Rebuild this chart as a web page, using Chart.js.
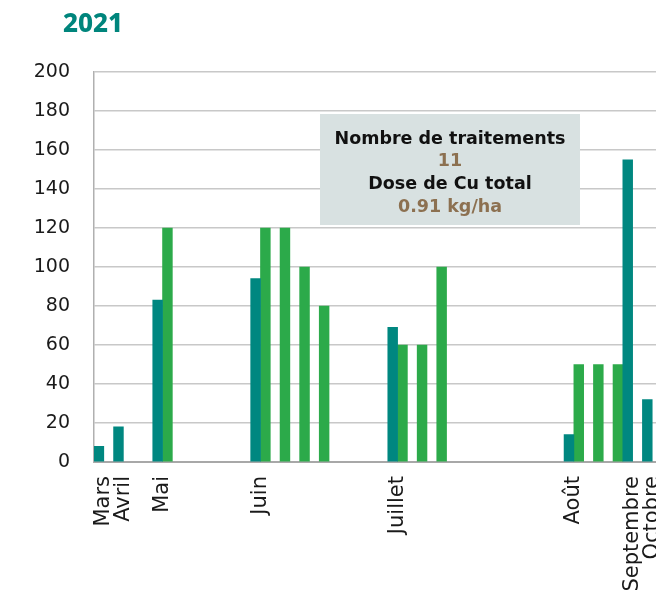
<!DOCTYPE html>
<html>
<head>
<meta charset="utf-8">
<script src="https://cdn.jsdelivr.net/npm/chart.js@4/dist/chart.umd.min.js"></script>
<style>
  html, body { margin: 0; padding: 0; background: #fff; overflow: hidden; }
  #wrap { position: relative; width: 711px; height: 640px; }
</style>
</head>
<body>
<div id="wrap"><canvas id="c"></canvas></div>
<script>
// Category slots (labels only at month starts)
const categories = [
  'Mars', 'Avril', '', 'Mai', '', '', '', '', 'Juin', '', '', '', '', '', '',
  'Juillet', '', '', '', '', '', '', '', '', 'Août', '', '', 'Septembre', 'Octobre', ''
];
// Series 1 (teal)
const tealValues = [
  8, 18, null, 83, null, null, null, null, 94, null, null, null, null, null, null,
  69, null, null, null, null, null, null, null, null, 14, null, null, 155, 32, null
];
// Series 2 (green)
const greenValues = [
  null, null, null, 120, null, null, null, null, 120, 120, 100, 80, null, null, null,
  60, 60, 100, null, null, null, null, null, null, 50, 50, 50, null, null, null
];
const yTicks = [0, 20, 40, 60, 80, 100, 120, 140, 160, 180, 200];
const titleText = '2021';
const boxLines = ['Nombre de traitements', '11', 'Dose de Cu total', '0.91 kg/ha'];

const TEAL = '#008780';
const TITLE_TEAL = '#00857c';
const GREEN = '#2caa4a';
const BROWN = '#8c7050';
const CANVAS_H = 640;
const AXIS_BOTTOM = 462;

const overlay = {
  id: 'overlay',
  afterDraw(chart) {
    const ctx = chart.ctx;
    ctx.save();
    // title
    ctx.fillStyle = TITLE_TEAL;
    ctx.font = '800 26px "Noto Sans"';
    ctx.textBaseline = 'alphabetic';
    ctx.textAlign = 'left';
    ctx.fillText(titleText, 63, 32);
    // info box
    ctx.fillStyle = '#d8e1e1';
    ctx.fillRect(320, 114, 260, 111);
    ctx.textAlign = 'center';
    ctx.textBaseline = 'middle';
    const cx = 450;
    const ys = [139, 161.5, 184, 207];
    boxLines.forEach((t, i) => {
      ctx.fillStyle = (i % 2 === 1) ? BROWN : '#111111';
      ctx.font = 'bold 17.5px "DejaVu Sans"';
      ctx.fillText(t, cx, ys[i]);
    });
    ctx.restore();
  }
};

new Chart(document.getElementById('c'), {
  type: 'bar',
  data: {
    labels: categories,
    datasets: [
      { data: tealValues, backgroundColor: TEAL, borderWidth: 0 },
      { data: greenValues, backgroundColor: GREEN, borderWidth: 0 }
    ]
  },
  options: {
    responsive: true,
    maintainAspectRatio: false,
    animation: false,
    datasets: { bar: { categoryPercentage: 1.0, barPercentage: 1.0 } },
    layout: { padding: { top: 72, right: 0, left: 0, bottom: 0 } },
    plugins: { legend: { display: false }, tooltip: { enabled: false }, title: { display: false } },
    scales: {
      x: {
        grid: { display: false, drawTicks: false },
        border: { display: true, color: '#a8a8a8', width: 2 },
        ticks: {
          autoSkip: false, minRotation: 90, maxRotation: 90, padding: 14,
          color: '#1a1a1a', font: { family: '"DejaVu Sans"', size: 21 }
        },
        afterFit(s) { s.height = CANVAS_H - AXIS_BOTTOM; }
      },
      y: {
        min: 0, max: 200,
        afterBuildTicks(s) { s.ticks = yTicks.map(v => ({ value: v })); },
        grid: { color: '#c8c8c8', lineWidth: 1.5, drawTicks: false },
        border: { display: true, color: '#b0b0b0', width: 1.5 },
        ticks: { padding: 24, color: '#1a1a1a', font: { family: '"DejaVu Sans"', size: 19 } },
        afterFit(s) { s.width = 94; }
      }
    }
  },
  plugins: [overlay]
});
</script>
</body>
</html>
